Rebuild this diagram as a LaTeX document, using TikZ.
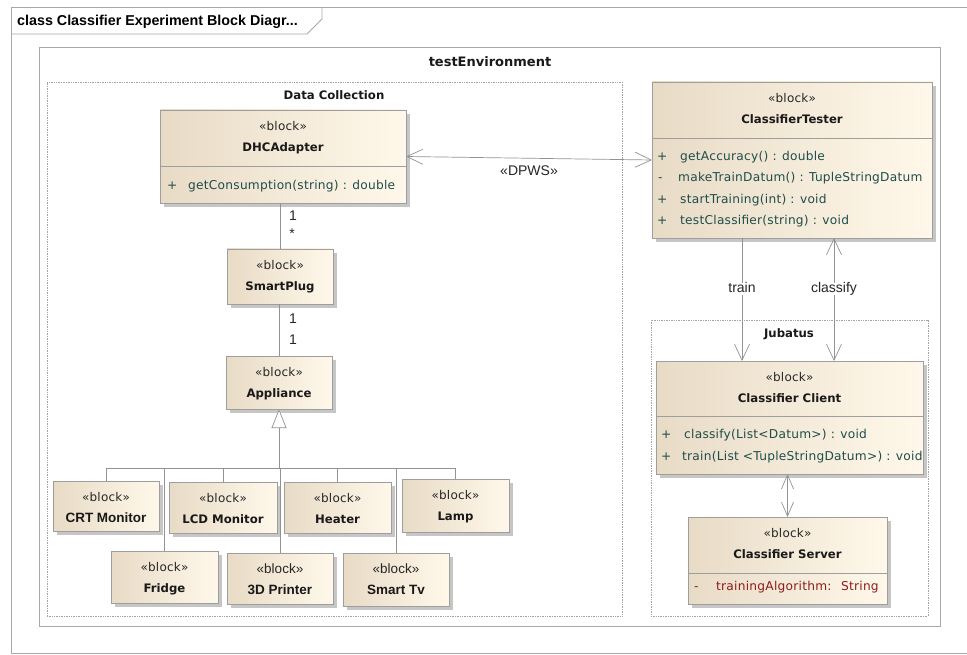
\documentclass[tikz,border=0pt]{standalone}
\usepackage{fontspec}
\usetikzlibrary{arrows.meta}
\newfontfamily\dejavu{DejaVu Sans}
\newfontfamily\dejavums[LetterSpace=2]{DejaVu Sans}
\newfontfamily\arial{Liberation Sans}
\definecolor{frameline}{HTML}{A8A8A8}
\definecolor{boxline}{HTML}{9E9E9E}
\definecolor{fillL}{HTML}{E8DBC6}
\definecolor{fillR}{HTML}{FFF8EA}
\definecolor{shadowc}{HTML}{C6C6C6}
\definecolor{memteal}{HTML}{1F4D4B}
\definecolor{memred}{HTML}{8E1B1B}
\definecolor{connc}{HTML}{939393}
\definecolor{dotc}{HTML}{A4A4A4}
\tikzset{
  blkshape/.style={draw=boxline, line width=0.7pt, left color=fillL, right color=fillR, inner sep=0pt, outer sep=0pt},
  stereo/.style={font=\dejavums\fontsize{12}{14}\selectfont, text=black!85, inner sep=0pt, text height=.72em, text depth=0pt},
  stereoA/.style={font=\arial\fontsize{13.5}{15}\selectfont, text=black!85, inner sep=0pt, text height=.72em, text depth=0pt},
  bname/.style={font=\dejavu\bfseries\fontsize{11.7}{13}\selectfont, text=black!90, inner sep=0pt, text height=.72em, text depth=0pt},
  bnameA/.style={font=\arial\bfseries\fontsize{13.5}{15}\selectfont, text=black!90, inner sep=0pt, text height=.72em, text depth=0pt},
  mem/.style={font=\dejavums\fontsize{12.2}{14}\selectfont, text=memteal, inner sep=0pt, anchor=west, text height=.72em, text depth=0pt},
  memr/.style={mem, text=memred},
  lbl/.style={font=\arial\fontsize{14}{16}\selectfont, text=black!85, inner sep=0pt, text height=.72em, text depth=0pt},
  pkglbl/.style={font=\dejavu\bfseries\fontsize{11.7}{13}\selectfont, text=black!90, inner sep=0pt, text height=.72em, text depth=0pt},
  pkgbox/.style={draw=dotc, densely dotted, line width=0.7pt, inner sep=0pt, outer sep=0pt},
  envbox/.style={draw=frameline, line width=0.8pt, inner sep=0pt, outer sep=0pt},
  conn/.style={draw=connc, line width=0.7pt},
  barb/.tip={Straight Barb[length=16pt, width=15pt, line width=0.7pt]},
  sbarb/.tip={Straight Barb[length=14pt, width=12pt, line width=0.7pt]},
  gen/.tip={Triangle[open, length=19pt, width=15pt, fill=white, line width=0.7pt]},
}
% name, x1, y1, x2, y2, title, stereotype style, name style
\newcommand\blk[8]{%
  \fill[shadowc] (#2+4,#3+4) rectangle (#4+4,#5+4);
  \node[blkshape, minimum width={(#4-#2)*1pt}, minimum height={(#5-#3)*1pt}] (#1) at ({(#2+#4)/2},{(#3+#5)/2}) {};
  \node[#7] (#1-s) at ([yshift=-17pt]#1.north) {«block»};
  \node[#8] (#1-n) at ([yshift=-38pt]#1.north) {#6};
}
\begin{document}
\begin{tikzpicture}[x=1pt, y=-1pt]
\useasboundingbox (0,0) rectangle (967,655);
% outer frame
\draw[frameline, line width=0.8pt] (967,7) -- (11,7) -- (11,653) -- (967,653);
\draw[frameline, line width=0.8pt] (11,34) -- (307,34) -- (322,19) -- (322,7);
\node[font=\arial\bfseries\fontsize{14.3}{16}\selectfont, anchor=west, inner sep=0pt, text height=.72em, text depth=0pt] (title) at (17,22) {class Classifier Experiment Block Diagr...};
% environment and packages
\node[envbox, minimum width=901pt, minimum height=579pt] (env) at (489.5,336.5) {};
\node[font=\dejavu\bfseries\fontsize{13}{15}\selectfont, text=black!90, inner sep=0pt, text height=.72em, text depth=0pt] (envlbl) at (490,63) {testEnvironment};
\node[pkgbox, minimum width=575pt, minimum height=534pt] (dc) at (334.5,349) {};
\node[pkglbl] (dclbl) at (334,96) {Data Collection};
\node[pkgbox, minimum width=277pt, minimum height=296pt] (jub) at (789.5,468) {};
\node[pkglbl] (jublbl) at (789,334) {Jubatus};
% blocks
\blk{dhc}{160}{110}{406}{203}{DHCAdapter}{stereo}{bname}
\draw[boxline, line width=0.7pt] (160,166) -- (406,166);
\node[mem] (dhcp1) at (167,186) {+};
\node[mem] (dhcm1) at (188,186) {getConsumption(string) : double};

\blk{tester}{652}{82}{932}{238}{ClassifierTester}{stereo}{bname}
\draw[boxline, line width=0.7pt] (652,138) -- (932,138);
\node[mem] (tp1) at (657,157) {+};
\node[mem] (tm1) at (680,157) {getAccuracy() : double};
\node[mem] (tp2) at (658,178) {-};
\node[mem] (tm2) at (678,178) {makeTrainDatum() : TupleStringDatum};
\node[mem] (tp3) at (657,200) {+};
\node[mem] (tm3) at (680,200) {startTraining(int) : void};
\node[mem] (tp4) at (657,221) {+};
\node[mem] (tm4) at (680,221) {testClassifier(string) : void};

\blk{client}{656}{361}{923}{474}{Classifier Client}{stereo}{bname}
\draw[boxline, line width=0.7pt] (656,416) -- (923,416);
\node[mem] (cp1) at (661,435) {+};
\node[mem] (cm1) at (684,435) {classify(List<Datum>) : void};
\node[mem] (cp2) at (661,457) {+};
\node[mem] (cm2) at (682,457) {train(List <TupleStringDatum>) : void};

\blk{server}{688}{517}{887}{604}{Classifier Server}{stereo}{bname}
\draw[boxline, line width=0.7pt] (688,573) -- (887,573);
\node[memr] (sp1) at (694,587) {-};
\node[memr] (sm1) at (716,587) {trainingAlgorithm:~ String};

\blk{plug}{227}{249}{333}{304}{SmartPlug}{stereo}{bname}
\blk{appl}{226}{356}{332}{409}{Appliance}{stereo}{bname}
\blk{crt}{53}{481}{159}{531}{CRT Monitor}{stereo}{bnameA}
\blk{lcd}{169}{482}{277}{533}{LCD Monitor}{stereo}{bname}
\blk{heater}{284}{482}{391}{533}{Heater}{stereo}{bname}
\blk{lamp}{402}{479}{509}{532}{Lamp}{stereo}{bname}
\blk{fridge}{111}{551}{218}{603}{Fridge}{stereo}{bname}
\blk{printer}{227}{553}{333}{604}{3D Printer}{stereoA}{bnameA}
\blk{tv}{343}{553}{449}{606}{Smart Tv}{stereoA}{bnameA}

% connectors
\draw[conn, barb-barb] (dhc.east) -- (tester.west);
\node[lbl] (dpws) at (529,172) {«DPWS»};

\draw[conn] (plug.north |- dhc.south) -- (plug.north);
\node[lbl] (m1) at (293,217) {1};
\node[lbl] (m2) at (292,235) {*};
\draw[conn] (plug.south) -- (plug.south -| appl.north) -- (appl.north);
\node[lbl] (m3) at (293,320) {1};
\node[lbl] (m4) at (293,341) {1};

\coordinate (bus) at (279,468);
\draw[conn, -gen] (bus) -- (appl.south);
\draw[conn] (crt.north) |- (bus);
\draw[conn] (fridge.north) |- (bus);
\draw[conn] (lcd.north) |- (bus);
\draw[conn] (printer.north) |- (bus);
\draw[conn] (heater.north) |- (bus);
\draw[conn] (tv.north) |- (bus);
\draw[conn] (lamp.north) |- (bus);

\coordinate (trainx) at (742,0);
\coordinate (classx) at (834,0);
\draw[conn, -barb] (tester.south -| trainx) -- (client.north -| trainx);
\node[lbl, fill=white, inner sep=2pt] (trainlbl) at (742,289) {train};
\draw[conn, barb-barb] (tester.south -| classx) -- (client.north -| classx);
\node[lbl, fill=white, inner sep=2pt] (classlbl) at (834,289) {classify};

\draw[conn, sbarb-sbarb] (client.south -| server.north) -- (server.north);
\end{tikzpicture}
\end{document}
